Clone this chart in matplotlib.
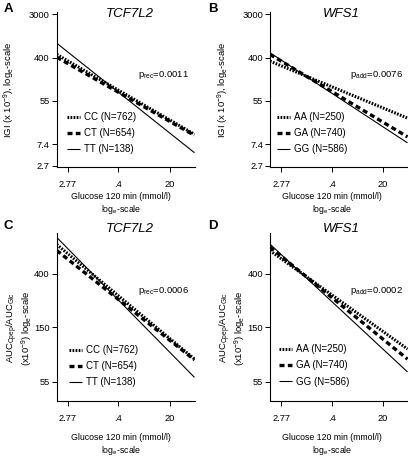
import numpy as np
import matplotlib
matplotlib.use("Agg")
import matplotlib.pyplot as plt

plt.rcParams['font.family'] = ['Liberation Sans', 'DejaVu Sans']
plt.rcParams['mathtext.default'] = 'regular'
plt.rcParams['mathtext.fontset'] = 'custom'
plt.rcParams['mathtext.rm'] = 'Liberation Sans'
plt.rcParams['mathtext.it'] = 'Liberation Sans:italic'

W, H = 408, 457
DPI = 100

# ---- data (fitted lines: values at the two ends of the glucose range) ----
glucose_ends = [2.23, 32.5]
xticks = [2.77, 7.4, 20]
xticklabels = ['2.77', '.4', '20']

yticks_igi = [3000, 400, 55, 7.4, 2.7]
yticks_auc = [400, 150, 55]

tcf_labels = ['CC (N=762)', 'CT (N=654)', 'TT (N=138)']
wfs_labels = ['AA (N=250)', 'GA (N=740)', 'GG (N=586)']

igi_tcf = {'CC': [464, 11.6], 'CT': [408, 11.0], 'TT': [780, 4.95]}
igi_wfs = {'AA': [340, 24.5], 'GA': [464, 10.3], 'GG': [502, 7.8]}
auc_tcf = {'CC': [685, 83.5], 'CT': [614, 82.3], 'TT': [780, 59.7]}
auc_wfs = {'AA': [611, 100.5], 'GA': [652, 83.5], 'GG': [689, 66.0]}

p_texts = ['p$_{rec}$=0.0011', 'p$_{add}$=0.0076', 'p$_{rec}$=0.0006', 'p$_{add}$=0.0002']

styles = [dict(color='black', lw=2.2, linestyle=(0, (0.55, 0.45))),
          dict(color='black', lw=2.4, linestyle=(0, (1.5, 1.0))),
          dict(color='black', lw=0.8, linestyle='-')]

fig = plt.figure(figsize=(W / DPI, H / DPI), dpi=DPI)


def axes_px(left, right, top, bottom):
    return fig.add_axes([left / W, 1 - bottom / H, (right - left) / W, (bottom - top) / H])


def style_axes(ax, ylim, yticks):
    ax.set_xscale('log', base=np.e)
    ax.set_yscale('log', base=np.e)
    ax.set_xlim(glucose_ends)
    ax.set_ylim(ylim)
    ax.set_xticks(xticks)
    ax.set_xticklabels(xticklabels)
    ax.set_yticks(yticks)
    ax.set_yticklabels([('%g' % v) for v in yticks])
    ax.xaxis.set_minor_locator(matplotlib.ticker.NullLocator())
    ax.yaxis.set_minor_locator(matplotlib.ticker.NullLocator())
    for s in ['top', 'right']:
        ax.spines[s].set_visible(False)
    ax.spines['left'].set_linewidth(0.8)
    ax.spines['bottom'].set_linewidth(0.8)
    ax.tick_params(axis='both', direction='out', length=3.5, width=0.7,
                   labelsize=6.7, pad=1.5)
    ax.tick_params(axis='x', pad=6)
    ax.patch.set_alpha(0)


# (axes, data, labels, ylim, yticks, legend-left px, legend-middle-row px)
panels = [
    (axes_px(56.7, 194.5, 12, 167), igi_tcf, tcf_labels, (2.56, 3294), yticks_igi, 67, 133),
    (axes_px(270, 407.5, 12, 167), igi_wfs, wfs_labels, (2.56, 3294), yticks_igi, 277, 133),
    (axes_px(56.7, 194.5, 233, 401.3), auc_tcf, tcf_labels, (38.5, 845), yticks_auc, 69, 366),
    (axes_px(270, 407.5, 233, 401.3), auc_wfs, wfs_labels, (38.5, 845), yticks_auc, 279, 365.5),
]

for i, (ax, data, labels, ylim, yt, lx, ly) in enumerate(panels):
    handles = []
    for (key, vals), st in zip(data.items(), styles):
        h, = ax.plot(glucose_ends, vals, solid_capstyle='butt', dash_capstyle='butt', **st)
        handles.append(h)
    style_axes(ax, ylim, yt)
    ax.legend(handles, labels, loc='center left',
              bbox_to_anchor=(lx / W, 1 - ly / H), bbox_transform=fig.transFigure,
              frameon=False, fontsize=7, handlelength=1.3, handletextpad=0.4,
              labelspacing=0.62, borderaxespad=0, borderpad=0)


def ftext(x, y, s, **kw):
    fig.text(x / W, 1 - y / H, s, **kw)


ftext(130, 14, 'TCF7L2', fontsize=9.5, style='italic', ha='center', va='center')
ftext(341, 14, 'WFS1', fontsize=9.5, style='italic', ha='center', va='center')
ftext(130, 229, 'TCF7L2', fontsize=9.5, style='italic', ha='center', va='center')
ftext(341, 229, 'WFS1', fontsize=9.5, style='italic', ha='center', va='center')

ftext(8, 9, 'A', fontsize=9.5, fontweight='bold', ha='center', va='center')
ftext(213, 9, 'B', fontsize=9.5, fontweight='bold', ha='center', va='center')
ftext(8, 226, 'C', fontsize=9.5, fontweight='bold', ha='center', va='center')
ftext(213, 226, 'D', fontsize=9.5, fontweight='bold', ha='center', va='center')

ftext(138, 75, p_texts[0], fontsize=6.8, ha='left', va='center')
ftext(350, 75, p_texts[1], fontsize=6.8, ha='left', va='center')
ftext(138, 291, p_texts[2], fontsize=6.8, ha='left', va='center')
ftext(350, 291, p_texts[3], fontsize=6.8, ha='left', va='center')

igi_label = 'IGI (x 10$^{-9}$), log$_e$-scale'
ftext(9.5, 90, igi_label, fontsize=6.8, rotation=90, ha='center', va='center')
ftext(223, 90, igi_label, fontsize=6.8, rotation=90, ha='center', va='center')
auc_label = 'AUC$_{Cpep}$/AUC$_{Glc}$\n(x10$^{-9}$) log$_e$-scale'
ftext(20, 328, auc_label, fontsize=6.8, rotation=90, ha='center', va='center',
      linespacing=1.0)
ftext(233, 328, auc_label, fontsize=6.8, rotation=90, ha='center', va='center',
      linespacing=1.0)

xl = 'Glucose 120 min (mmol/l)\nlog$_e$-scale'
for cx, cy in [(121, 204), (332, 204), (121, 445), (332, 445)]:
    ftext(cx, cy, xl, fontsize=6.3, ha='center', va='center', linespacing=1.15)

fig.savefig('out.png', dpi=DPI)
